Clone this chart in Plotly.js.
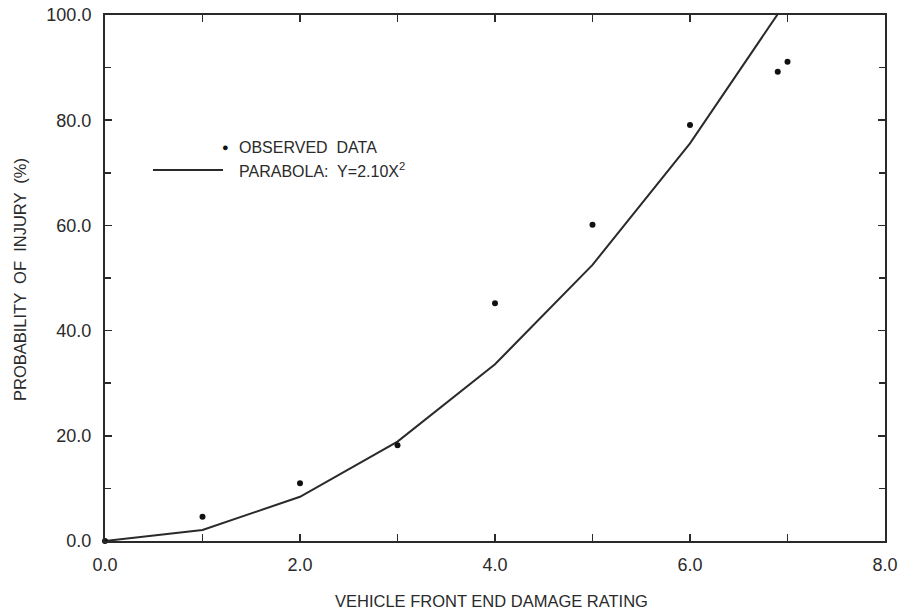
<!DOCTYPE html>
<html>
<head>
<meta charset="utf-8">
<script src="https://cdn.plot.ly/plotly-3.0.1.min.js"></script>
<style>html,body{margin:0;padding:0;background:#fff;}#chart{width:898px;height:613px;}</style>
</head>
<body>
<div id="chart"></div>
<script>
// Observed data
var obsX = [0, 1, 2, 3, 4, 5, 6, 6.9, 7.0];
var obsY = [0, 4.6, 11.0, 18.2, 45.2, 60.1, 79.1, 89.2, 91.1];
// Parabola fit Y = 2.10 X^2 (polyline through integer ratings)
var fitX = [0, 1, 2, 3, 4, 5, 6, 7];
var fitY = [0, 2.1, 8.4, 18.9, 33.6, 52.5, 75.6, 102.9];
// Tick labels
var xTickVals = [0, 2, 4, 6, 8];
var xTickText = ['0.0', '2.0', '4.0', '6.0', '8.0'];
var yTickVals = [0, 20, 40, 60, 80, 100];
var yTickText = ['0.0', '20.0', '40.0', '60.0', '80.0', '100.0'];

var ink = '#2a2a2a';
var font = 'Liberation Sans, Arial, Helvetica, sans-serif';

var traces = [
  {x: fitX, y: fitY, mode: 'lines', type: 'scatter', name: 'PARABOLA',
   line: {color: ink, width: 2}, hoverinfo: 'skip'},
  {x: obsX, y: obsY, mode: 'markers', type: 'scatter', name: 'OBSERVED DATA',
   marker: {color: '#111', size: 6}, cliponaxis: false}
];

var axisCommon = {
  showgrid: false, zeroline: false, showline: true, linecolor: ink, linewidth: 2,
  mirror: 'ticks', ticks: 'inside', ticklen: 7, tickwidth: 1.5, tickcolor: ink,
  tickfont: {family: font, size: 18, color: ink}, fixedrange: true
};

var layout = {
  width: 898, height: 613,
  margin: {l: 105, r: 13, t: 15, b: 72},
  paper_bgcolor: '#fff', plot_bgcolor: '#fff',
  showlegend: false,
  xaxis: Object.assign({}, axisCommon, {
    range: [0, 8], tickmode: 'array', tickvals: xTickVals, ticktext: xTickText,
    minor: {dtick: 1, ticks: 'inside', ticklen: 7, tickwidth: 1.5, tickcolor: ink},
    ticklabelstandoff: 6
  }),
  yaxis: Object.assign({}, axisCommon, {
    range: [0, 100], tickmode: 'array', tickvals: yTickVals, ticktext: yTickText,
    minor: {dtick: 10, ticks: 'inside', ticklen: 6, tickwidth: 1.5, tickcolor: ink},
    ticklabelstandoff: 8
  }),
  shapes: [
    {type: 'line', xref: 'paper', yref: 'paper', x0: 0.0615, x1: 0.1513, y0: 0.7053, y1: 0.7053,
     line: {color: ink, width: 2}}
  ],
  annotations: [
    {xref: 'paper', yref: 'paper', x: 0.1551, y: 0.749, text: '\u25CF', showarrow: false,
     font: {family: font, size: 11, color: '#111'}, xanchor: 'center', yanchor: 'middle'},
    {xref: 'paper', yref: 'paper', x: 0.1692, y: 0.749, text: 'OBSERVED  DATA', showarrow: false,
     font: {family: font, size: 16, color: ink}, xanchor: 'left', yanchor: 'middle'},
    {xref: 'paper', yref: 'paper', x: 0.1692, y: 0.7053, text: 'PARABOLA:  Y=2.10X<sup>2</sup>', showarrow: false,
     font: {family: font, size: 16, color: ink}, xanchor: 'left', yanchor: 'middle'},
    {xref: 'paper', yref: 'paper', x: (491 - 105) / 780, y: (541 - 601) / 526,
     text: 'VEHICLE FRONT END DAMAGE RATING', showarrow: false,
     font: {family: font, size: 16.5, color: ink}, xanchor: 'center', yanchor: 'middle'},
    {xref: 'paper', yref: 'paper', x: (20 - 105) / 780, y: (541 - 280) / 526,
     text: 'PROBABILITY  OF  INJURY  (%)', showarrow: false, textangle: -90,
     font: {family: font, size: 16.5, color: ink}, xanchor: 'center', yanchor: 'middle'}
  ]
};

Plotly.newPlot('chart', traces, layout, {displayModeBar: false, staticPlot: true});
</script>
</body>
</html>
